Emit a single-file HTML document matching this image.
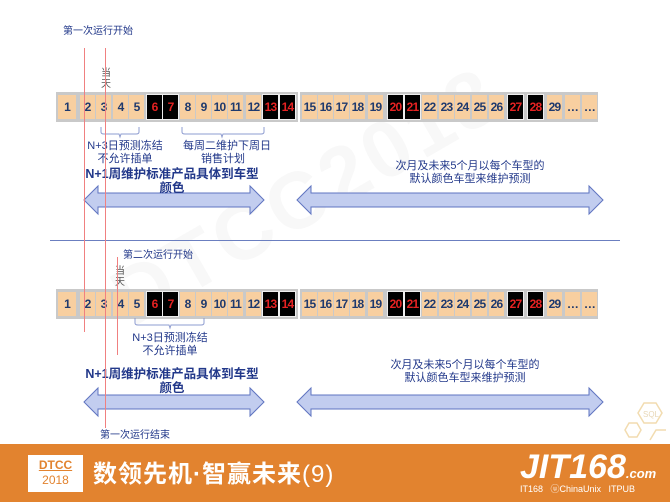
<!DOCTYPE html>
<html><head><meta charset="utf-8"><style>
body{margin:0;width:670px;height:502px;position:relative;overflow:hidden;background:#fff;font-family:"Liberation Sans","Noto Sans CJK SC",sans-serif}
.a{position:absolute}
.bar{position:absolute;background:#c9c9c9;height:30px}
.c{position:absolute;width:15px;height:24px;background:#f8cfa0;color:#1f3a6e;font-weight:bold;font-size:12px;line-height:24px;text-align:center;letter-spacing:-0.8px}
.k{background:#000;color:#e52222;outline:1px solid #eee}
.t{position:absolute;color:#22388a;font-size:11px;text-align:center;white-space:nowrap;line-height:13px}
.b{font-weight:bold;font-size:12.5px;line-height:14px}
.r{position:absolute;width:1px;background:#f08080}
</style></head><body>
<div class="a" style="left:90px;top:150px;font-size:80px;color:#f8f8f8;transform:rotate(-30deg);font-weight:bold;letter-spacing:4px">DTCC2018</div>
<div class="t" style="left:63px;top:25px;font-size:10px">第一次运行开始</div>
<div class="t" style="left:100px;top:68px;font-size:10px;width:12px;white-space:normal;line-height:11px;color:#555">当天</div>

<div id="row1"></div>
<div class="a" style="left:50px;top:240px;width:570px;height:1px;background:#6b7fc0"></div>
<div class="t" style="left:123px;top:249px;font-size:10px">第二次运行开始</div>
<div class="t" style="left:114px;top:266px;font-size:10px;width:12px;white-space:normal;line-height:11px;color:#555">当天</div>

<svg class="a" style="left:0;top:0" width="670" height="502">
 <g fill="none" stroke="#8e9cd0" stroke-width="1">
  <path d="M101 127v5q0 2 3 2h15l1 3 1-3h15q3 0 3-2v-5"/>
  <path d="M182 127v5q0 2 3 2h36l1 3 1-3h38q3 0 3-2v-5"/>
  <path d="M135 318v5q0 2 3 2h31l1 3 1-3h30q3 0 3-2v-5"/>
 </g>
 <g fill="#c2cdef" stroke="#5f74c0" stroke-width="1">
  <path d="M84 200l14-14v7h152v-7l14 14-14 14v-7H98v7z"/>
  <path d="M297 200l14-14v7h278v-7l14 14-14 14v-7H311v7z"/>
  <path d="M84 402l14-14v7h152v-7l14 14-14 14v-7H98v7z"/>
  <path d="M297 402l14-14v7h278v-7l14 14-14 14v-7H311v7z"/>
 </g>
 <g fill="none" stroke="#f2dcb0" stroke-width="1.5">
  <path d="M638 413l6-10h12l6 10-6 10h-12z"/>
  <path d="M625 430l4-7h8l4 7-4 7h-8z"/>
  <path d="M650 440l6-10h10"/>
 </g>
 <text x="643" y="417" font-size="8" fill="#e8d8b8" font-family="Liberation Sans">SQL</text>
</svg>

<div class="t" style="left:85px;top:140px;width:80px">N+3日预测冻结<br>不允许插单</div>
<div class="t" style="left:183px;top:140px;width:80px">每周二维护下周日<br>销售计划</div>
<div class="t b" style="left:82px;top:167px;width:180px">N+1周维护标准产品具体到车型<br>颜色</div>
<div class="t" style="left:385px;top:160px;width:170px">次月及未来5个月以每个车型的<br>默认颜色车型来维护预测</div>

<div class="t" style="left:130px;top:332px;width:80px">N+3日预测冻结<br>不允许插单</div>
<div class="t b" style="left:82px;top:367px;width:180px">N+1周维护标准产品具体到车型<br>颜色</div>
<div class="t" style="left:380px;top:359px;width:170px">次月及未来5个月以每个车型的<br>默认颜色车型来维护预测</div>
<div class="t" style="left:100px;top:429px;font-size:10px">第一次运行结束</div>

<div class="a" style="left:0;top:444px;width:670px;height:58px;background:#e2832f"></div>
<div class="a" style="left:28px;top:455px;width:55px;height:37px;background:#fff;text-align:center;color:#e2832f;font-size:12px;line-height:15px;padding-top:3px;box-sizing:border-box"><span style="text-decoration:underline;font-weight:bold">DTCC</span><br>2018</div>
<div class="a" style="left:93px;top:460px;color:#fff;font-size:24px;font-weight:bold;line-height:30px;letter-spacing:1px">数领先机·智赢未来<span style="font-weight:normal">(9)</span></div>
<div class="a" style="left:520px;top:447px;color:#fff;font-size:34px;font-weight:bold;font-style:italic;line-height:40px">JIT168<span style="font-size:13px">.com</span></div>
<div class="a" style="left:520px;top:483px;color:#fff;font-size:9px;line-height:12px">IT168 &nbsp; ⓤChinaUnix &nbsp; ITPUB</div>

<div class="r" style="left:84px;top:48px;height:284px"></div>
<div class="r" style="left:105px;top:48px;height:380px"></div>
<div class="r" style="left:117px;top:257px;height:98px"></div>

<script>
var xs=[58,80,96,113,129,147,163,180,196,212,228,246,263,280,302,318,334,350,368,388,405,422,439,455,472,489,508,528,547,565,582];
var lab=[];for(var i=1;i<=29;i++)lab.push(i);lab.push('…','…');
var blk=[6,7,13,14,20,21,27,28];
function row(y){var h='<div class="bar" style="left:56px;top:'+(y-3)+'px;width:242px"></div><div class="bar" style="left:300px;top:'+(y-3)+'px;width:298px"></div>';
for(var i=0;i<xs.length;i++){var k=blk.indexOf(lab[i])>=0;h+='<div class="c'+(k?' k':'')+'" style="left:'+xs[i]+'px;top:'+y+'px'+(i==0?';width:18px':'')+'">'+lab[i]+'</div>';}
return h;}
document.getElementById('row1').innerHTML=row(95)+row(292);
</script>
</body></html>
